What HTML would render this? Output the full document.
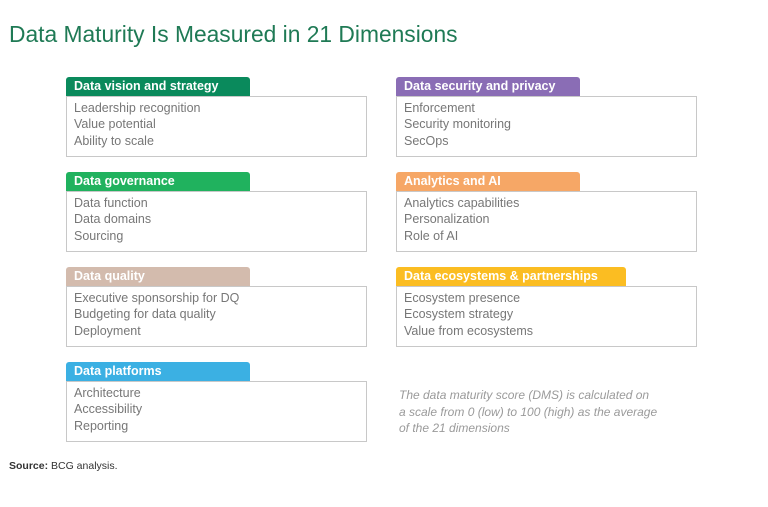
<!DOCTYPE html>
<html><head><meta charset="utf-8"><style>
body{margin:0;width:768px;height:507px;background:#fff;position:relative;font-family:"Liberation Sans",sans-serif;overflow:hidden}
.title{position:absolute;left:9px;top:21px;font-size:22.8px;color:#1f7a55;white-space:nowrap}
.tab{position:absolute;height:19px;line-height:19px;color:#fff;font-weight:bold;font-size:12.5px;padding-left:8px;box-sizing:border-box;border-radius:3px 3px 0 0;white-space:nowrap}
.box{position:absolute;width:301px;height:61px;border:1px solid #c8c8c8;box-sizing:border-box;padding:3px 0 0 7px;font-size:12.5px;line-height:16.3px;color:#777}
.note{position:absolute;left:399px;top:387px;font-size:12px;line-height:16.5px;font-style:italic;color:#9a9a9a}
.src{position:absolute;left:9px;top:460px;font-size:10.5px;color:#333}
</style></head><body>
<div class="title">Data Maturity Is Measured in 21 Dimensions</div>
<div id="root"></div>
<div class="note">The data maturity score (DMS) is calculated on<br>a scale from 0 (low) to 100 (high) as the average<br>of the 21 dimensions</div>
<div class="src"><b>Source:</b> BCG analysis.</div>
<script>
const categories=["Data vision and strategy","Data governance","Data quality","Data platforms","Data security and privacy","Analytics and AI","Data ecosystems & partnerships"];
const dimensions=[["Leadership recognition","Value potential","Ability to scale"],["Data function","Data domains","Sourcing"],["Executive sponsorship for DQ","Budgeting for data quality","Deployment"],["Architecture","Accessibility","Reporting"],["Enforcement","Security monitoring","SecOps"],["Analytics capabilities","Personalization","Role of AI"],["Ecosystem presence","Ecosystem strategy","Value from ecosystems"]];
const colors=["#0a8a5c","#20b25e","#d3bbad","#3bb0e3","#8a6db5","#f6a766","#fbbd22"];
const root=document.getElementById('root');
categories.forEach((c,i)=>{
  const col=i<4?0:1,row=i<4?i:i-4;
  const x=col?396:66,y=77+row*95;
  const t=document.createElement('div');
  t.className='tab';
  
  
  t.style.left=x+'px';t.style.top=y+'px';t.style.background=colors[i];
  t.style.width=(i===6?230:184)+'px';
  t.textContent=c;root.appendChild(t);
  const b=document.createElement('div');
  b.className='box';
  
  
  b.style.left=x+'px';b.style.top=(y+19)+'px';
  b.innerHTML=dimensions[i].join('<br>');root.appendChild(b);
});
</script>
</body></html>
